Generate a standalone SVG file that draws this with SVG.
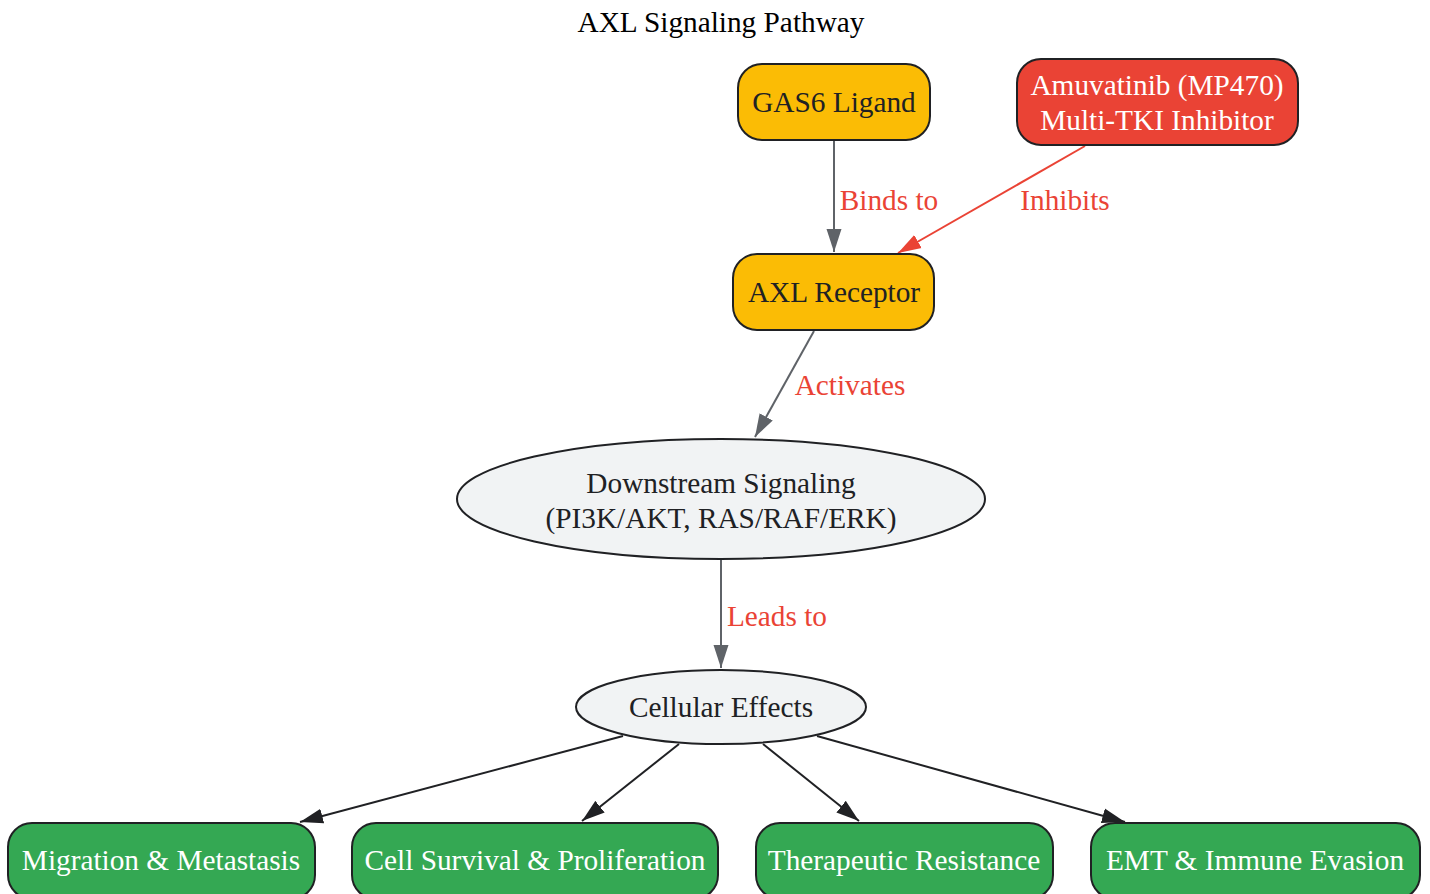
<svg xmlns="http://www.w3.org/2000/svg" width="1430" height="894" viewBox="0 0 1430 894">
<style>
text{font-family:"Liberation Serif","Times New Roman",serif;font-size:29.3px;text-anchor:middle;dominant-baseline:central}
.node{stroke:#202124;stroke-width:2}
.yellow{fill:#FBBC05}
.red{fill:#EA4335}
.green{fill:#34A853}
.grey{fill:#F1F3F4}
.dark{fill:#202124}
.white{fill:#FFFFFF}
.lbl{fill:#EA4335}
.e{fill:none;stroke-width:2}
.eg{stroke:#5F6368}
.er{stroke:#EA4335}
.ek{stroke:#202124}
</style>
<defs>
<marker id="ag" markerUnits="userSpaceOnUse" markerWidth="24" markerHeight="16" refX="23" refY="8" orient="auto"><path d="M0,0.5 L23,8 L0,15.5 z" fill="#5F6368"/></marker>
<marker id="ar" markerUnits="userSpaceOnUse" markerWidth="24" markerHeight="16" refX="23" refY="8" orient="auto"><path d="M0,0.5 L23,8 L0,15.5 z" fill="#EA4335"/></marker>
<marker id="ak" markerUnits="userSpaceOnUse" markerWidth="24" markerHeight="16" refX="23" refY="8" orient="auto"><path d="M0,0.5 L23,8 L0,15.5 z" fill="#202124"/></marker>
</defs>
<rect width="1430" height="894" fill="#FFFFFF"/>
<text x="721" y="22" fill="#000000">AXL Signaling Pathway</text>
<g id="edges">
<line class="e eg" x1="834" y1="140" x2="834" y2="252" marker-end="url(#ag)"/>
<text class="lbl" x="889" y="200">Binds to</text>
<line class="e er" x1="1085" y1="146" x2="898" y2="253" marker-end="url(#ar)"/>
<text class="lbl" x="1065" y="200">Inhibits</text>
<line class="e eg" x1="814" y1="331" x2="755" y2="437" marker-end="url(#ag)"/>
<text class="lbl" x="850" y="385">Activates</text>
<line class="e eg" x1="721" y1="560" x2="721" y2="668" marker-end="url(#ag)"/>
<text class="lbl" x="777" y="616">Leads to</text>
<line class="e ek" x1="623" y1="736" x2="300" y2="822" marker-end="url(#ak)"/>
<line class="e ek" x1="679" y1="744" x2="582" y2="821" marker-end="url(#ak)"/>
<line class="e ek" x1="763" y1="744" x2="859" y2="821" marker-end="url(#ak)"/>
<line class="e ek" x1="817" y1="736" x2="1125" y2="822" marker-end="url(#ak)"/>
</g>
<g id="gas6">
<rect class="node yellow" x="738" y="64" width="192" height="76" rx="24"/>
<text class="dark" x="834" y="102">GAS6 Ligand</text>
</g>
<g id="amuvatinib">
<rect class="node red" x="1017" y="59" width="281" height="86" rx="24"/>
<text class="white" x="1157" y="85">Amuvatinib (MP470)</text>
<text class="white" x="1157" y="120">Multi-TKI Inhibitor</text>
</g>
<g id="axl">
<rect class="node yellow" x="733" y="254" width="201" height="76" rx="24"/>
<text class="dark" x="834" y="292">AXL Receptor</text>
</g>
<g id="downstream">
<ellipse class="node grey" cx="721" cy="499" rx="264" ry="60"/>
<text class="dark" x="721" y="483">Downstream Signaling</text>
<text class="dark" x="721" y="518">(PI3K/AKT, RAS/RAF/ERK)</text>
</g>
<g id="cellular">
<ellipse class="node grey" cx="721" cy="707" rx="145" ry="37"/>
<text class="dark" x="721" y="707">Cellular Effects</text>
</g>
<g id="migration">
<rect class="node green" x="8" y="823" width="307" height="76" rx="24"/>
<text class="white" x="161" y="860">Migration &amp; Metastasis</text>
</g>
<g id="survival">
<rect class="node green" x="352" y="823" width="366" height="76" rx="24"/>
<text class="white" x="535" y="860">Cell Survival &amp; Proliferation</text>
</g>
<g id="resistance">
<rect class="node green" x="756" y="823" width="297" height="76" rx="24"/>
<text class="white" x="904" y="860">Therapeutic Resistance</text>
</g>
<g id="emt">
<rect class="node green" x="1091" y="823" width="329" height="76" rx="24"/>
<text class="white" x="1255" y="860">EMT &amp; Immune Evasion</text>
</g>
</svg>
